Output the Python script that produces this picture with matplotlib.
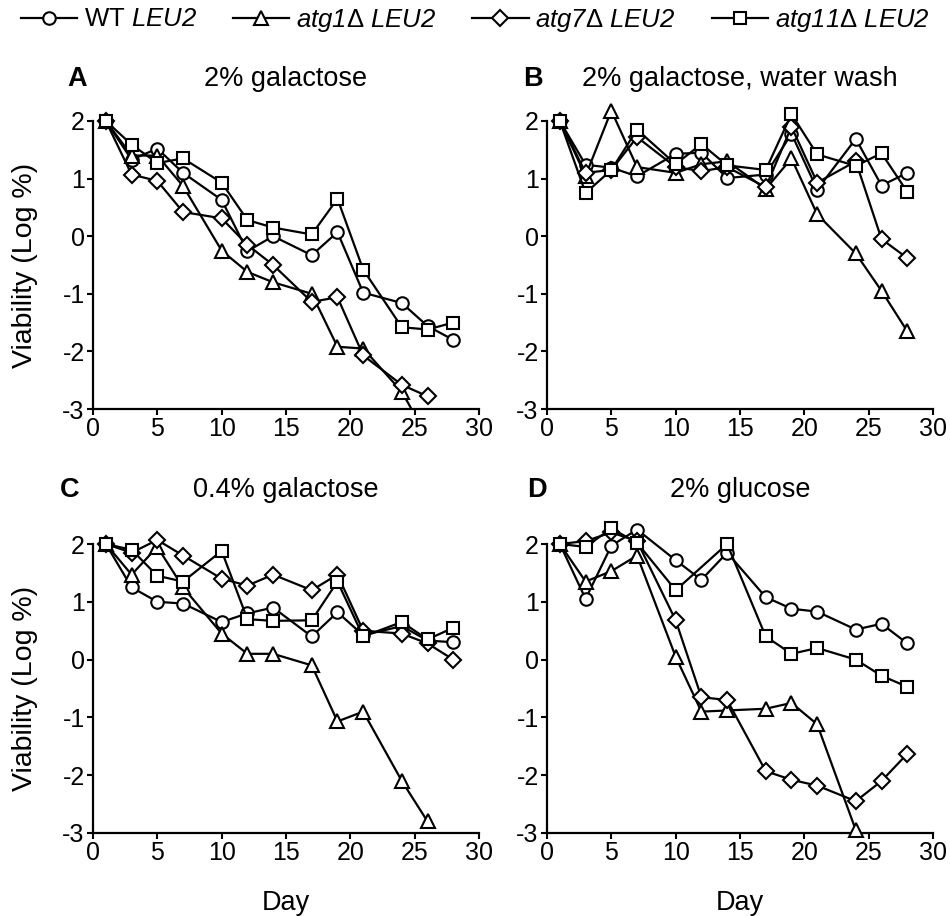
import numpy as np
import matplotlib
matplotlib.use("Agg")
from matplotlib import pyplot as plt

plt.rcParams['font.family'] = ['Liberation Sans', 'DejaVu Sans']
plt.rcParams['axes.unicode_minus'] = False
plt.rcParams['mathtext.fontset'] = 'custom'
plt.rcParams['mathtext.rm'] = 'Liberation Sans:italic'
plt.rcParams['mathtext.it'] = 'Liberation Sans:italic'
plt.rcParams['mathtext.sf'] = 'Liberation Sans'

nan = np.nan

# days of sampling
days = [1, 3, 5, 7, 10, 12, 14, 17, 19, 21, 24, 26, 28]

# A: 2% galactose
wt_a = [2.0, 1.33, 1.52, 1.1, 0.63, -0.26, 0.0, -0.33, 0.07, -0.98, -1.16, -1.56, -1.8]
atg1_a = [2.0, 1.4, 1.4, 0.87, -0.25, -0.62, -0.8, -1.0, -1.92, -1.95, -2.7, -3.5, nan]
atg7_a = [2.0, 1.07, 0.96, 0.42, 0.31, -0.15, -0.5, -1.14, -1.06, -2.07, -2.58, -2.78, nan]
atg11_a = [2.0, 1.59, 1.27, 1.35, 0.93, 0.28, 0.15, 0.03, 0.65, -0.58, -1.58, -1.62, -1.5]

# B: 2% galactose, water wash
wt_b = [2.0, 1.24, 1.19, 1.04, 1.43, 1.45, 1.01, 1.07, 1.78, 0.81, 1.69, 0.88, 1.1]
atg1_b = [2.0, 1.05, 2.18, 1.2, 1.1, 1.25, 1.3, 0.82, 1.35, 0.38, -0.3, -0.95, -1.65]
atg7_b = [2.0, 1.1, 1.15, 1.72, 1.2, 1.13, 1.2, 0.85, 1.9, 0.93, 1.3, -0.05, -0.38]
atg11_b = [2.0, 0.75, 1.15, 1.85, 1.25, 1.6, 1.23, 1.15, 2.12, 1.42, 1.22, 1.44, 0.77]

# C: 0.4% galactose
wt_c = [2.0, 1.25, 1.0, 0.97, 0.65, 0.8, 0.9, 0.4, 0.82, 0.42, 0.58, 0.33, 0.3]
atg1_c = [2.0, 1.47, 1.95, 1.25, 0.45, 0.1, 0.1, -0.1, -1.07, -0.9, -2.1, -2.8, nan]
atg7_c = [2.0, 1.85, 2.07, 1.8, 1.4, 1.28, 1.47, 1.2, 1.47, 0.5, 0.45, 0.28, 0.0]
atg11_c = [2.0, 1.9, 1.45, 1.35, 1.88, 0.7, 0.67, 0.68, 1.35, 0.4, 0.65, 0.35, 0.55]

# D: 2% glucose
wt_d = [2.0, 1.05, 1.97, 2.25, 1.72, 1.38, 1.85, 1.08, 0.88, 0.83, 0.52, 0.62, 0.28]
atg1_d = [2.0, 1.35, 1.53, 1.8, 0.05, -0.9, -0.88, -0.85, -0.75, -1.12, -2.95, nan, nan]
atg7_d = [2.0, 2.05, 2.2, 2.05, 0.68, -0.65, -0.7, -1.93, -2.08, -2.18, -2.45, -2.1, -1.63]
atg11_d = [2.0, 1.95, 2.27, 2.02, 1.2, nan, 2.0, 0.4, 0.1, 0.2, 0.0, -0.28, -0.47]

labels = ['WT $LEU2$',
          '$atg1\\mathsf{\\Delta}\\ LEU2$',
          '$atg7\\mathsf{\\Delta}\\ LEU2$',
          '$atg11\\mathsf{\\Delta}\\ LEU2$']
markers = ['o', '^', 'D', 's']
msizes = [9, 10.5, 8, 9]

panels = [
	('A', '2% galactose', [wt_a, atg1_a, atg7_a, atg11_a]),
	('B', '2% galactose, water wash', [wt_b, atg1_b, atg7_b, atg11_b]),
	('C', '0.4% galactose', [wt_c, atg1_c, atg7_c, atg11_c]),
	('D', '2% glucose', [wt_d, atg1_d, atg7_d, atg11_d]),
]

fig = plt.figure(figsize=(9.5, 9.16), dpi=100)

W, H = 950.0, 916.0
# pixel positions of x=0, x=30, y=-3 and y=2 for each panel
boxes = [(93, 479, 409, 121), (547, 933, 409, 121),
         (93, 479, 833, 544), (547, 933, 833, 544)]
ytop = 2.35
title_y = [79, 79, 490, 490]
letter_x = [77, 533, 70, 537]

x = np.array(days, dtype=float)
handles = []
for k, (letter, title, series) in enumerate(panels):
	x0, x1, yb, y2 = boxes[k]
	per_unit = (yb - y2) / 5.0
	ytop_px = y2 - (ytop - 2) * per_unit
	ax = fig.add_axes([x0 / W, 1 - yb / H, (x1 - x0) / W, (yb - ytop_px) / H])
	for i, vals in enumerate(series):
		v = np.array(vals, dtype=float)
		m = ~np.isnan(v)
		clip = (k == 0 and i == 1)
		h, = ax.plot(x[m], v[m], color='black', lw=1.6, marker=markers[i],
		             ms=msizes[i], mfc='white', mec='black', mew=1.5,
		             clip_on=clip, zorder=3 + i)
		if k == 0:
			handles.append(h)
	ax.set_xlim(0, 30)
	ax.set_ylim(-3, ytop)
	ax.set_xticks(range(0, 31, 5))
	ax.set_yticks(range(-3, 3))
	ax.spines['top'].set_visible(False)
	ax.spines['right'].set_visible(False)
	ax.spines['left'].set_bounds(-3, 2)
	ax.spines['left'].set_linewidth(1.6)
	ax.spines['bottom'].set_linewidth(1.6)
	ax.tick_params(direction='out', length=4, width=1.5, labelsize=18, pad=2)
	if k >= 2:
		ax.set_xlabel('Day', fontsize=19.5)
		ax.xaxis.set_label_coords(0.5, -(890 - yb) / (yb - ytop_px))
	if k % 2 == 0:
		fig.text(25 / W, 1 - (yb + y2) / 2 / H, 'Viability (Log %)', fontsize=20.5,
		         rotation=90, ha='center', va='center')
	fig.text((x0 + x1) / 2 / W, 1 - title_y[k] / H, title, fontsize=19.5,
	         ha='center', va='center')
	fig.text(letter_x[k] / W, 1 - title_y[k] / H, letter, fontsize=19.5,
	         fontweight='bold', ha='center', va='center')

fig.legend(handles, labels, loc='center', bbox_to_anchor=(0.5, 1 - 20 / H),
           ncol=4, frameon=False, fontsize=18.5, handlelength=2.2,
           handletextpad=0.25, columnspacing=1.4, borderaxespad=0)

fig.savefig('out.png', dpi=100)
